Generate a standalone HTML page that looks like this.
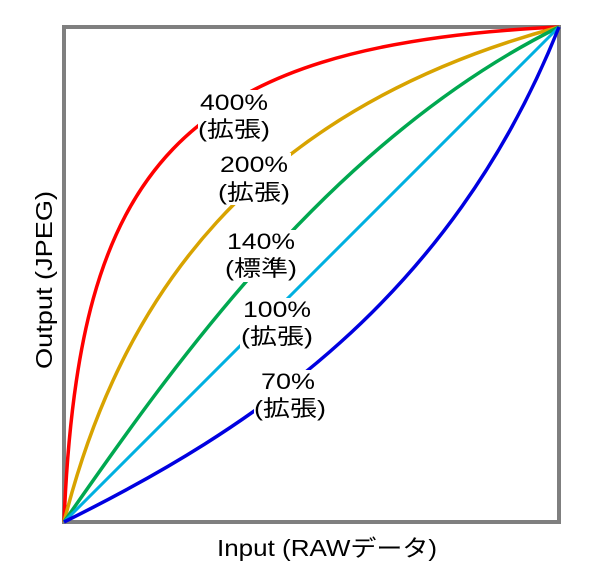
<!DOCTYPE html>
<html><head><meta charset="utf-8"><style>
body{margin:0;background:#fff;}
svg text{font-family:"Liberation Sans","Noto Sans CJK JP",sans-serif;fill:#000;}
</style></head><body>
<svg width="604" height="574" viewBox="0 0 604 574" xmlns="http://www.w3.org/2000/svg">
<rect x="64" y="27" width="495" height="495" fill="#fff" stroke="#7f7f7f" stroke-width="4"/>
<g fill="none" stroke-width="3.5">
<path d="M64,522 C78,170 175,45 559,27" stroke="#ff0000"/>
<path d="M64,522 C120,300 250,110 559,27" stroke="#d8a300"/>
<path d="M64,522 C170,370 330,140 559,27" stroke="#00a850"/>
<path d="M64,522 L559,27" stroke="#00b0e0" stroke-width="3"/>
<path d="M64,522 C250,430 450,300 559,27" stroke="#0000e0"/>
</g>
<g font-size="22" text-anchor="middle" lengthAdjust="spacingAndGlyphs">
<rect x="198" y="90" width="72" height="52" fill="#fff"/>
<text x="234" y="110" textLength="68" lengthAdjust="spacingAndGlyphs">400%</text><text x="234" y="137" textLength="72" lengthAdjust="spacingAndGlyphs">(拡張)</text>
<rect x="217" y="153" width="74" height="52" fill="#fff"/>
<text x="254" y="172" textLength="68" lengthAdjust="spacingAndGlyphs">200%</text><text x="254" y="200" textLength="72" lengthAdjust="spacingAndGlyphs">(拡張)</text>
<rect x="224" y="230" width="74" height="52" fill="#fff"/>
<text x="261" y="249" textLength="68" lengthAdjust="spacingAndGlyphs">140%</text><text x="261" y="276" textLength="72" lengthAdjust="spacingAndGlyphs">(標準)</text>
<rect x="240" y="298" width="74" height="52" fill="#fff"/>
<text x="277" y="317" textLength="68" lengthAdjust="spacingAndGlyphs">100%</text><text x="277" y="344" textLength="72" lengthAdjust="spacingAndGlyphs">(拡張)</text>
<rect x="254" y="370" width="68" height="52" fill="#fff"/>
<text x="288" y="389" textLength="54" lengthAdjust="spacingAndGlyphs">70%</text><text x="290" y="416" textLength="72" lengthAdjust="spacingAndGlyphs">(拡張)</text>
</g>
<text x="327" y="556" font-size="23" text-anchor="middle" textLength="220" lengthAdjust="spacingAndGlyphs">Input (RAWデータ)</text>
<text transform="translate(52,280) rotate(-90)" font-size="23" text-anchor="middle" textLength="178" lengthAdjust="spacingAndGlyphs">Output (JPEG)</text>
</svg>
</body></html>
